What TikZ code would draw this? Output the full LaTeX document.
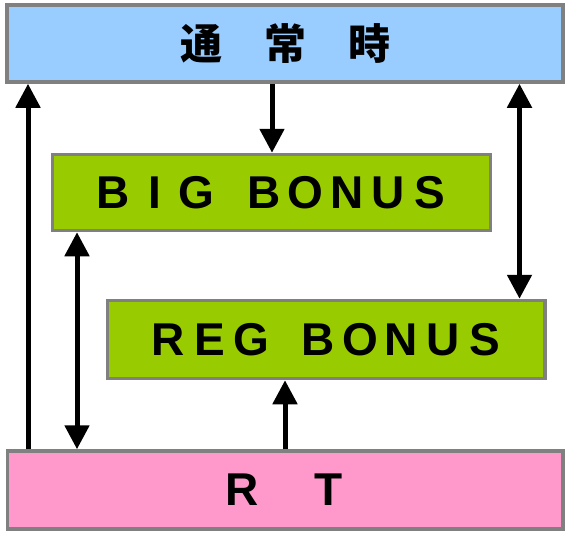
\documentclass[tikz,border=0pt]{standalone}
\usepackage{fontspec}
\setmainfont{Liberation Sans}
\newfontfamily\jpfont{Noto Sans CJK JP}
\usetikzlibrary{arrows.meta}
\definecolor{topblue}{HTML}{99CCFF}
\definecolor{bonusgreen}{HTML}{99CC00}
\definecolor{rtpink}{HTML}{FF99CC}
\definecolor{boxgray}{HTML}{808080}
\newcommand\lcell[1]{\makebox[41.5pt]{#1}}
\begin{document}
\begin{tikzpicture}[x=1pt,y=-1pt,
  box/.style={draw=boxgray, line width=3.5pt, inner sep=0pt, align=center},
  latin/.style={font=\fontsize{46}{50}\selectfont\bfseries},
  jp/.style={font=\jpfont\fontsize{42}{46}\selectfont\bfseries},
  arr/.style={line width=5pt, -{Triangle[width=24pt,length=24pt]}},
  dbl/.style={line width=5pt, {Triangle[width=24pt,length=24pt]}-{Triangle[width=24pt,length=24pt]}}]
\fill[white] (0,0) rectangle (572,536);
\useasboundingbox (0,0) rectangle (572,536);
\node[box, fill=topblue, minimum width=556pt, minimum height=77pt, jp] (top) at (285,43.5) {通　常　時};
\node[box, fill=bonusgreen, minimum width=438pt, minimum height=76pt, latin] (big) at (271.5,192.5)
  {\lcell{B}\lcell{I}\lcell{G}\hspace{26pt}\lcell{B}\lcell{O}\lcell{N}\lcell{U}\lcell{S}};
\node[box, fill=bonusgreen, minimum width=437.5pt, minimum height=78pt, latin] (reg) at (326.25,339.5)
  {\lcell{R}\lcell{E}\lcell{G}\hspace{26pt}\lcell{B}\lcell{O}\lcell{N}\lcell{U}\lcell{S}};
\node[box, fill=rtpink, minimum width=555.5pt, minimum height=78pt, latin] (rt) at (285.25,490)
  {\lcell{R}\hspace{44.5pt}\lcell{T}};
\coordinate (xa) at (28,0);
\coordinate (xb) at (272,0);
\coordinate (xc) at (519.5,0);
\coordinate (xd) at (77,0);
\coordinate (xe) at (285,0);
\draw[arr] (rt.north -| xa) -- (top.south -| xa);
\draw[arr] (top.south -| xb) -- (big.north -| xb);
\draw[dbl] (top.south -| xc) -- (reg.north -| xc);
\draw[dbl] (big.south -| xd) -- (rt.north -| xd);
\draw[arr] (rt.north -| xe) -- (reg.south -| xe);
\end{tikzpicture}
\end{document}
